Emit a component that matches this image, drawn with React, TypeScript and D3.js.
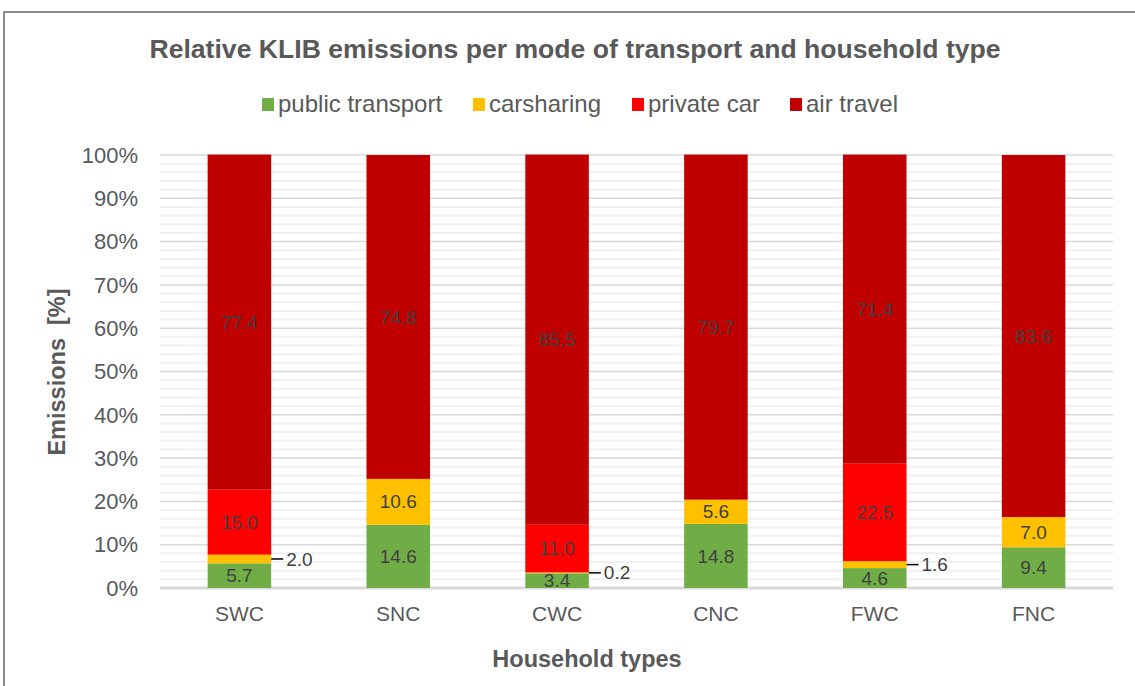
import * as d3 from 'd3';

const householdTypes = ['SWC', 'SNC', 'CWC', 'CNC', 'FWC', 'FNC'];
const seriesNames = ['public transport', 'carsharing', 'private car', 'air travel'];
const seriesColors = ['#70AD47', '#FFC000', '#FF0000', '#C00000'];

const publicTransport = [5.7, 14.6, 3.4, 14.8, 4.6, 9.4];
const carsharing = [2.0, 10.6, 0.2, 5.6, 1.6, 7.0];
const privateCar = [15.0, 0, 11.0, 0, 22.5, 0];
const airTravel = [77.4, 74.8, 85.5, 79.7, 71.4, 83.6];

const yTicks = [0, 10, 20, 30, 40, 50, 60, 70, 80, 90, 100];

const W = 1135;
const H = 686;
const font = 'Arial, "Liberation Sans", Helvetica, sans-serif';

export default function App() {
  const series = [publicTransport, carsharing, privateCar, airTravel];
  const rows = householdTypes.map((name, i) => {
    const r: Record<string, number | string> = { name };
    seriesNames.forEach((s, k) => (r[s] = series[k][i]));
    return r;
  });
  const stacked = d3.stack<Record<string, number | string>>().keys(seriesNames)(rows as any);

  const x = d3
    .scaleBand()
    .domain(householdTypes)
    .range([160, 1113])
    .paddingInner(0.6)
    .paddingOuter(0.3);
  const y = d3.scaleLinear().domain([0, 100]).range([588, 155]);
  const minor = d3.range(0, 101, 2).filter((v) => v % 10 !== 0);

  // legend swatch x positions
  const legendX = [262, 473, 632, 790];

  return (
    <svg
      width={W}
      height={H}
      style={{ position: 'absolute', left: 0, top: 0, background: '#fff', fontFamily: font }}
    >
      <rect x={4} y={12} width={W + 50} height={H + 50} fill="#fff" stroke="#8c8c8c" strokeWidth={2} />

      <text x={575} y={58} textAnchor="middle" fontSize={26.6} fontWeight="bold" fill="#595959">
        Relative KLIB emissions per mode of transport and household type
      </text>

      {seriesNames.map((s, k) => (
        <g key={s}>
          <rect x={legendX[k]} y={98} width={12} height={13} fill={seriesColors[k]} />
          <text x={legendX[k] + 16} y={112} fontSize={24} fill="#595959">
            {s}
          </text>
        </g>
      ))}

      {/* gridlines */}
      {minor.map((v) => (
        <line key={'m' + v} x1={160} x2={1113} y1={y(v)} y2={y(v)} stroke="#f0f0f0" strokeWidth={2} />
      ))}
      {yTicks.map((v) => (
        <line
          key={'g' + v}
          x1={160}
          x2={1113}
          y1={y(v)}
          y2={y(v)}
          stroke="#d9d9d9"
          strokeWidth={v === 0 ? 3 : 1.5}
        />
      ))}
      {yTicks.map((v) => (
        <text key={'t' + v} x={138} y={y(v)} dy="0.35em" textAnchor="end" fontSize={22} fill="#595959">
          {v}%
        </text>
      ))}

      {/* bars */}
      {stacked.map((layer, k) => (
        <g key={layer.key}>
          {layer.map((d, i) =>
            d[1] - d[0] > 0 ? (
              <rect
                key={i}
                x={x(householdTypes[i])}
                y={y(d[1])}
                width={x.bandwidth()}
                height={y(d[0]) - y(d[1])}
                fill={seriesColors[k]}
              />
            ) : null
          )}
        </g>
      ))}

      {/* data labels; thin segments get a leader line to the right */}
      {stacked.map((layer) =>
        layer.map((d, i) => {
          const v = d[1] - d[0];
          if (v <= 0) return null;
          const cx = (x(householdTypes[i]) ?? 0) + x.bandwidth() / 2;
          const cy = y((d[0] + d[1]) / 2);
          if (v < 3) {
            const x0 = (x(householdTypes[i]) ?? 0) + x.bandwidth();
            return (
              <g key={layer.key + i}>
                <line x1={x0} x2={x0 + 12} y1={cy} y2={cy} stroke="#000" strokeWidth={1.5} />
                <text x={x0 + 15} y={cy} dy="0.35em" fontSize={19} fill="#404040">
                  {v.toFixed(1)}
                </text>
              </g>
            );
          }
          return (
            <text key={layer.key + i} x={cx} y={cy} dy="0.35em" textAnchor="middle" fontSize={19} fill="#404040">
              {v.toFixed(1)}
            </text>
          );
        })
      )}

      {householdTypes.map((h) => (
        <text
          key={h}
          x={(x(h) ?? 0) + x.bandwidth() / 2}
          y={621}
          textAnchor="middle"
          fontSize={21}
          fill="#595959"
        >
          {h}
        </text>
      ))}

      <text x={587} y={667} textAnchor="middle" fontSize={23.5} fontWeight="bold" fill="#595959">
        Household types
      </text>
      <text
        transform="translate(65,372) rotate(-90)"
        textAnchor="middle"
        fontSize={23.5}
        fontWeight="bold"
        fill="#595959"
        style={{ whiteSpace: 'pre' }}
      >
        {'Emissions  [%]'}
      </text>
    </svg>
  );
}
